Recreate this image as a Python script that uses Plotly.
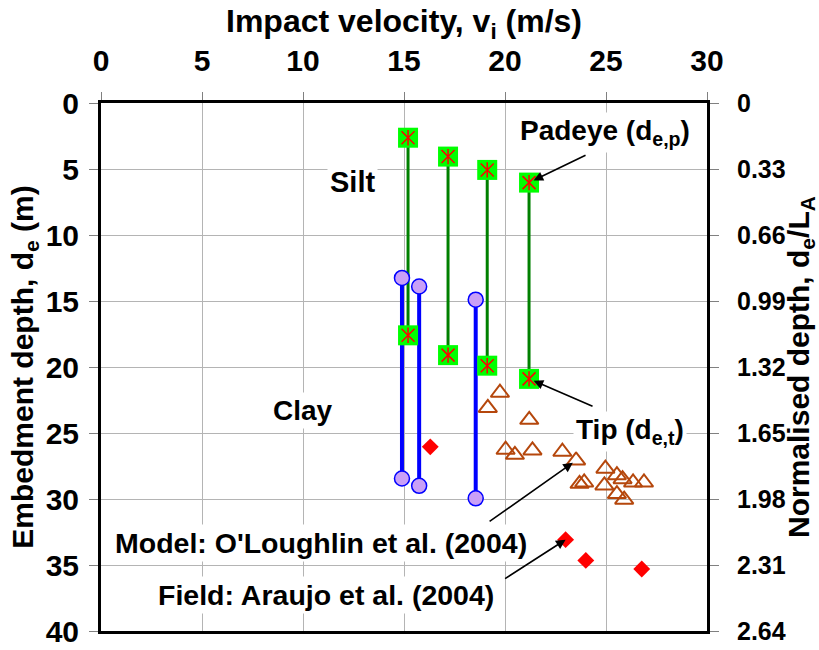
import plotly.graph_objects as go

# --- Anchor installations: impact velocity and embedment of padeye / tip ---
anchor_velocity = [15.2, 17.18, 19.12, 21.19]
padeye_depth = [2.63, 4.06, 5.07, 6.03]
tip_depth = [17.6, 19.1, 19.9, 20.9]

# --- Clay / silt range bars (top and bottom of each band) ---
band_velocity = [14.9, 15.75, 18.55]
band_top = [13.25, 13.9, 14.9]
band_bottom = [28.45, 29.0, 29.95]

# --- Model tests: O'Loughlin et al. (2004) ---
model_velocity = [19.75, 19.15, 21.2, 20.03, 20.49, 21.36, 22.84, 23.52, 24.97,
                  25.54, 25.82, 26.34, 26.88, 23.69, 23.92, 24.92, 25.54, 25.9]
model_depth = [21.95, 23.1, 24.0, 26.27, 26.65, 26.32, 26.42, 27.08, 27.7,
               28.2, 28.5, 28.75, 28.75, 28.85, 28.75, 28.97, 29.63, 30.05]

# --- Field data: Araujo et al. (2004) ---
field_velocity = [16.3, 23.0, 24.0, 26.77]
field_depth = [26.05, 33.08, 34.65, 35.3]

# --- Axis ticks ---
velocity_ticks = [0, 5, 10, 15, 20, 25, 30]
depth_ticks = [0, 5, 10, 15, 20, 25, 30, 35, 40]
norm_ticks = [0, 0.33, 0.66, 0.99, 1.32, 1.65, 1.98, 2.31, 2.64]
norm_labels = ["0", "0.33", "0.66", "0.99", "1.32", "1.65", "1.98", "2.31", "2.64"]

FONT = "Liberation Sans, Arial, sans-serif"
GRID = "#b4b4b4"


def segments(xs, y0s, y1s):
    """Vertical segments joined with None breaks."""
    sx, sy = [], []
    for x, a, b in zip(xs, y0s, y1s):
        sx += [x, x, None]
        sy += [a, b, None]
    return sx, sy


def tfont(size):
    return dict(family=FONT, size=size, color="black", weight="bold")


fig = go.Figure()

# padeye-to-tip connectors
gx, gy = segments(anchor_velocity, padeye_depth, tip_depth)
fig.add_trace(go.Scatter(x=gx, y=gy, mode="lines",
                         line=dict(color="#008000", width=3),
                         showlegend=False, hoverinfo="skip"))

# blue range bars with circle ends
bx, by = segments(band_velocity, band_top, band_bottom)
fig.add_trace(go.Scatter(x=bx, y=by, mode="lines+markers",
                         line=dict(color="#0000ff", width=4),
                         marker=dict(symbol="circle", size=15, color="#c9a0f7",
                                     line=dict(color="#0000ff", width=1.5)),
                         showlegend=False, hoverinfo="skip"))

# padeye and tip markers: green square with red asterisk
sq_x = anchor_velocity + anchor_velocity
sq_y = padeye_depth + tip_depth
fig.add_trace(go.Scatter(x=sq_x, y=sq_y, mode="markers",
                         marker=dict(symbol="square", size=20, color="#00ff00",
                                     line=dict(width=0)),
                         showlegend=False, hoverinfo="skip"))
fig.add_trace(go.Scatter(x=sq_x, y=sq_y, mode="markers",
                         marker=dict(symbol="x-thin-open", size=13, color="#ff0000",
                                     line=dict(color="#ff0000", width=1.5)),
                         showlegend=False, hoverinfo="skip"))
fig.add_trace(go.Scatter(x=sq_x, y=sq_y, mode="markers",
                         marker=dict(symbol="line-ns-open", size=11, color="#ff0000",
                                     line=dict(color="#ff0000", width=1.5)),
                         showlegend=False, hoverinfo="skip"))

# model tests
fig.add_trace(go.Scatter(x=model_velocity, y=model_depth, mode="markers",
                         marker=dict(symbol="triangle-up-open", size=16,
                                     color="#b5470c",
                                     line=dict(color="#b5470c", width=2)),
                         showlegend=False, hoverinfo="skip"))

# field data
fig.add_trace(go.Scatter(x=field_velocity, y=field_depth, mode="markers",
                         marker=dict(symbol="diamond", size=13, color="#ff0000"),
                         showlegend=False, hoverinfo="skip"))

# carrier for the normalised-depth axis
fig.add_trace(go.Scatter(x=[None], y=[None], yaxis="y2", mode="markers",
                         showlegend=False, hoverinfo="skip"))

fig.update_layout(
    width=819, height=650,
    margin=dict(l=101, r=112, t=103, b=19, autoexpand=False),
    paper_bgcolor="white", plot_bgcolor="white",
    font=dict(family=FONT, color="black"),
    xaxis=dict(
        side="top", range=[0, 30], tickvals=velocity_ticks,
        ticktext=[str(v) for v in velocity_ticks], automargin=False,
        showgrid=True, gridcolor=GRID, gridwidth=1,
        showline=True, linecolor="black", linewidth=3, mirror=True,
        ticks="outside", ticklen=8, tickcolor="#808080", tickwidth=1,
        tickfont=tfont(30), ticklabelstandoff=9, zeroline=False,
        title=dict(text="Impact velocity, v<sub>i</sub> (m/s)", font=tfont(32),
                   standoff=2),
    ),
    yaxis=dict(
        range=[40, 0], tickvals=depth_ticks, automargin=False,
        ticktext=[str(v) for v in depth_ticks],
        showgrid=True, gridcolor=GRID, gridwidth=1,
        showline=True, linecolor="black", linewidth=3, mirror=True,
        ticks="outside", ticklen=9, tickcolor="#808080", tickwidth=1,
        tickfont=tfont(30), ticklabelstandoff=4, zeroline=False,
        title=dict(text="Embedment depth, d<sub>e</sub> (m)", font=tfont(30),
                   standoff=4),
    ),
    yaxis2=dict(
        overlaying="y", side="right", range=[2.64, 0], automargin=False,
        tickvals=norm_ticks, ticktext=norm_labels,
        showgrid=False, zeroline=False,
        showline=True, linecolor="black", linewidth=3,
        ticks="outside", ticklen=9, tickcolor="#808080", tickwidth=1,
        tickfont=tfont(25), ticklabelstandoff=13,
    ),
)


def label(text, x, y, size=28):
    fig.add_annotation(x=x, y=y, xref="x", yref="y", text=text, showarrow=False,
                       font=tfont(size), bgcolor="white", borderpad=2)


def pointer(x, y, ax, ay, standoff=0):
    fig.add_annotation(x=x, y=y, xref="x", yref="y", ax=ax, ay=ay, text="",
                       showarrow=True, arrowhead=2, arrowsize=1.2,
                       arrowwidth=1.6, arrowcolor="black", standoff=standoff)


# title of the normalised-depth axis, set just outside the tick labels
fig.add_annotation(xref="paper", yref="paper", x=1.0, y=0.5, xanchor="center",
                   xshift=93, text="Normalised depth, d<sub>e</sub>/L<sub>A</sub>",
                   textangle=-90, showarrow=False, font=tfont(30))

label("Silt", 12.45, 6.0, 29)
label("Clay", 10.0, 23.3, 28)
label("Padeye (d<sub>e,p</sub>)", 24.95, 2.2)
label("Tip (d<sub>e,t</sub>)", 26.2, 24.9)
label("Model: O'Loughlin et al. (2004)", 10.9, 33.3, 28.5)
label("Field: Araujo et al. (2004)", 11.15, 37.25, 28.5)

pointer(anchor_velocity[3], padeye_depth[3], 58, -28, standoff=5)
pointer(anchor_velocity[3], tip_depth[3], 65, 28, standoff=5)
pointer(model_velocity[7], model_depth[7], -88, 62, standoff=4)
pointer(field_velocity[1], field_depth[1], -62, 40, standoff=0)

fig.write_html("out.html")
